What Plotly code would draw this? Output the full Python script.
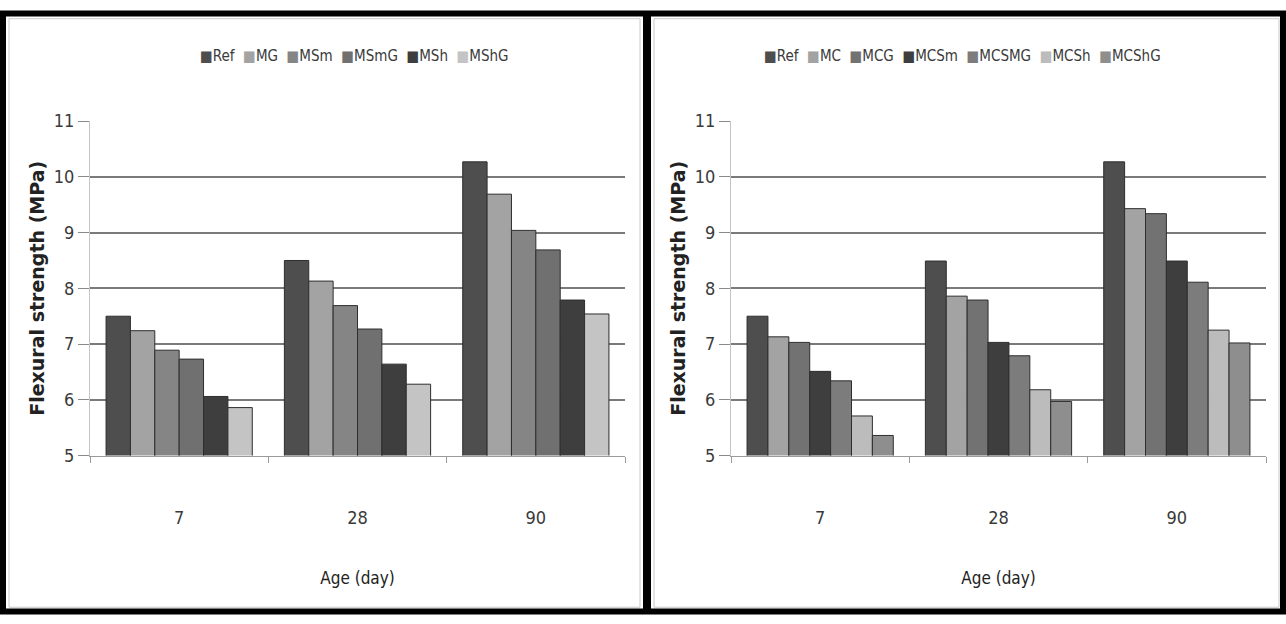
import plotly.graph_objects as go
from plotly.subplots import make_subplots

# Curing ages (days) on the category axis
ages = ["7", "28", "90"]

# Left panel: mixes with slag/silica modifications
left_names = ["Ref", "MG", "MSm", "MSmG", "MSh", "MShG"]
left_ref = [7.50, 8.50, 10.27]
left_mg = [7.24, 8.13, 9.69]
left_msm = [6.89, 7.69, 9.04]
left_msmg = [6.73, 7.27, 8.69]
left_msh = [6.06, 6.64, 7.79]
left_mshg = [5.86, 6.28, 7.54]
left_colors = ["#4e4e4e", "#a3a3a3", "#858585", "#707070", "#3e3e3e", "#c4c4c4"]

# Right panel: mixes with the C-series additions
right_names = ["Ref", "MC", "MCG", "MCSm", "MCSMG", "MCSh", "MCShG"]
right_ref = [7.50, 8.49, 10.27]
right_mc = [7.13, 7.86, 9.43]
right_mcg = [7.03, 7.79, 9.34]
right_mcsm = [6.51, 7.03, 8.49]
right_mcsmg = [6.34, 6.79, 8.11]
right_mcsh = [5.71, 6.18, 7.25]
right_mcshg = [5.36, 5.97, 7.02]
right_colors = ["#4e4e4e", "#a3a3a3", "#727272", "#3e3e3e", "#7c7c7c", "#bcbcbc", "#8e8e8e"]

y_ticks = [5, 6, 7, 8, 9, 10, 11]

left_values = [left_ref, left_mg, left_msm, left_msmg, left_msh, left_mshg]
right_values = [right_ref, right_mc, right_mcg, right_mcsm, right_mcsmg, right_mcsh, right_mcshg]

W, H = 1286, 624
NARROW = "Liberation Sans Narrow, DejaVu Sans Condensed, Arial Narrow, sans-serif"
TEXT = "#3a3a3a"

fig = make_subplots(rows=1, cols=2)

for col, names, values, colors in [
    (1, left_names, left_values, left_colors),
    (2, right_names, right_values, right_colors),
]:
    for name, vals, color in zip(names, values, colors):
        fig.add_trace(
            go.Bar(
                x=ages,
                y=vals,
                name=name,
                marker=dict(color=color, line=dict(color="#2e2e2e", width=1)),
                showlegend=False,
            ),
            row=1,
            col=col,
        )

# Plot-area placement in pixel terms
y_dom = [1 - 460 / H, 1 - 114 / H]
x_dom_left = [90 / W, 625 / W]
x_dom_right = [731 / W, 1266 / W]

axis_common_x = dict(
    showline=True,
    linecolor="#9a9a9a",
    linewidth=1,
    ticks="outside",
    tickson="boundaries",
    ticklen=6,
    tickcolor="#9a9a9a",
    tickfont=dict(family=NARROW, size=18, color=TEXT),
    ticklabelstandoff=46,
    showgrid=False,
    title=dict(text="Age (day)", font=dict(family=NARROW, size=17, color="#222"), standoff=44),
)
axis_common_y = dict(
    range=[5, 11],
    tickvals=y_ticks,
    showline=True,
    linecolor="#c4c4c4",
    linewidth=1,
    ticks="outside",
    ticklen=11,
    tickcolor="#8a8a8a",
    tickfont=dict(family=NARROW, size=18, color=TEXT),
    showgrid=True,
    gridcolor="#7a7a7a",
    gridwidth=1.5,
    zeroline=False,
    title=dict(
        text="Flexural strength (MPa)",
        font=dict(family="DejaVu Sans, Verdana, sans-serif", size=19, color="#222", weight="bold"),
        standoff=4,
    ),
)

fig.update_xaxes(domain=x_dom_left, row=1, col=1, **axis_common_x)
fig.update_xaxes(domain=x_dom_right, row=1, col=2, **axis_common_x)
fig.update_yaxes(domain=y_dom, row=1, col=1, **axis_common_y)
fig.update_yaxes(domain=y_dom, row=1, col=2, **axis_common_y)


def legend_text(names, colors):
    parts = [
        f'<span style="color:{c}">■</span><span style="color:{TEXT}">{n}</span>'
        for n, c in zip(names, colors)
    ]
    return "  ".join(parts)


annotations = [
    dict(
        x=354 / W, y=1 - 47 / H, xref="paper", yref="paper",
        xanchor="center", yanchor="middle", showarrow=False,
        text=legend_text(left_names, left_colors),
        font=dict(family=NARROW, size=15, color=TEXT),
    ),
    dict(
        x=962 / W, y=1 - 47 / H, xref="paper", yref="paper",
        xanchor="center", yanchor="middle", showarrow=False,
        text=legend_text(right_names, right_colors),
        font=dict(family=NARROW, size=15, color=TEXT),
    ),
]

# Panel frames: thick black outer border with a divider between the two charts
shapes = [
    dict(type="rect", xref="paper", yref="paper",
         x0=9 / W, x1=640 / W, y0=1 - 617 / H, y1=1 - 8 / H,
         line=dict(color="#c8c8c8", width=1)),
    dict(type="rect", xref="paper", yref="paper",
         x0=654 / W, x1=1279 / W, y0=1 - 617 / H, y1=1 - 8 / H,
         line=dict(color="#c8c8c8", width=1)),
    dict(type="rect", xref="paper", yref="paper",
         x0=3 / W, x1=1283 / W, y0=1 - 621.5 / H, y1=1 - 2.5 / H,
         line=dict(color="black", width=6)),
    dict(type="line", xref="paper", yref="paper",
         x0=647 / W, x1=647 / W, y0=0, y1=1,
         line=dict(color="black", width=8)),
]

fig.update_layout(
    width=W,
    height=H,
    margin=dict(l=0, r=0, t=0, b=0),
    barmode="group",
    bargap=0.18,
    bargroupgap=0,
    plot_bgcolor="white",
    paper_bgcolor="white",
    annotations=annotations,
    shapes=shapes,
)

fig.write_html("out.html")
